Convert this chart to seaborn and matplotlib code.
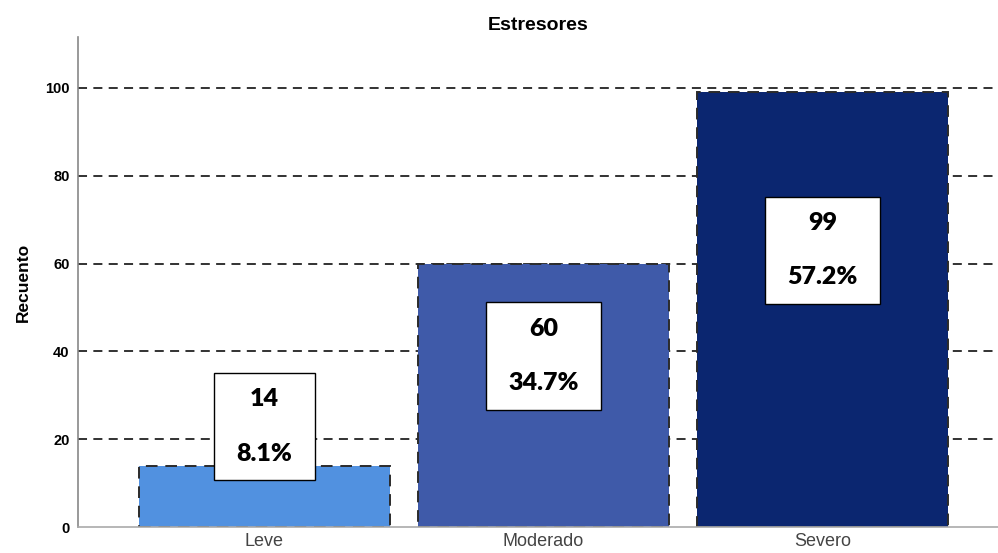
import matplotlib
matplotlib.use("Agg")
import matplotlib.pyplot as plt
import seaborn as sns
import pandas as pd

categories = ["Leve", "Moderado", "Severo"]
counts = [14, 60, 99]
percents = ["8.1%", "34.7%", "57.2%"]
colors = ["#5191E0", "#3F5AA9", "#0B2670"]
label_centers = [22.9, 39.0, 63.0]
yticks = [0, 20, 40, 60, 80, 100]

sns.set_theme(style="white")
plt.rcParams["font.family"] = ["Liberation Sans", "DejaVu Sans"]
plt.rcParams["text.color"] = "black"

df = pd.DataFrame({"cat": categories, "n": counts})

fig = plt.figure(figsize=(9.98, 5.53), dpi=100)
ax = fig.add_axes([0.0782, 0.047, 0.9218, 0.886])

sns.barplot(data=df, x="cat", y="n", hue="cat", palette=colors, legend=False,
            width=0.9, ax=ax, zorder=2, saturation=1)
for p in ax.patches:
    p.set_edgecolor("#2b2b2b")
    p.set_linewidth(1.4)
    p.set_linestyle((0, (6, 4)))

for y in yticks[1:]:
    ax.axhline(y, color="#222222", lw=1.3, ls=(0, (5, 3.5)), zorder=1)

ax.set_xlim(-0.668, 2.63)
ax.set_ylim(0, 111.6)
ax.set_yticks(yticks)
ax.set_yticklabels([str(t) for t in yticks], fontsize=10.5, fontweight="bold", color="black")
ax.tick_params(axis="y", length=0, pad=6)
ax.tick_params(axis="x", length=0, pad=4, labelsize=13, labelcolor="#444444")
ax.set_xlabel("")
ax.set_ylabel("Recuento", fontsize=12.5, fontweight="bold", labelpad=10, color="black")
ax.set_title("Estresores", fontsize=14, fontweight="bold", pad=5, color="black")

for s in ["top", "right"]:
    ax.spines[s].set_visible(False)
ax.spines["left"].set_color("#888888")
ax.spines["left"].set_linewidth(1.2)
ax.spines["bottom"].set_color("#aaaaaa")
ax.spines["bottom"].set_linewidth(1.2)

for i, (c, pct, yc) in enumerate(zip(counts, percents, label_centers)):
    ax.text(i, yc, f"{c}\n\n{pct}", ha="center", va="center", multialignment="center",
            fontsize=18, fontweight="heavy", family=["Lato", "DejaVu Sans"], color="black",
            linespacing=1.28, zorder=5,
            bbox=dict(boxstyle="square,pad=0.9", facecolor="white", edgecolor="black",
                      linewidth=1.0, mutation_aspect=0.7))

fig.savefig("out.png", dpi=100)
